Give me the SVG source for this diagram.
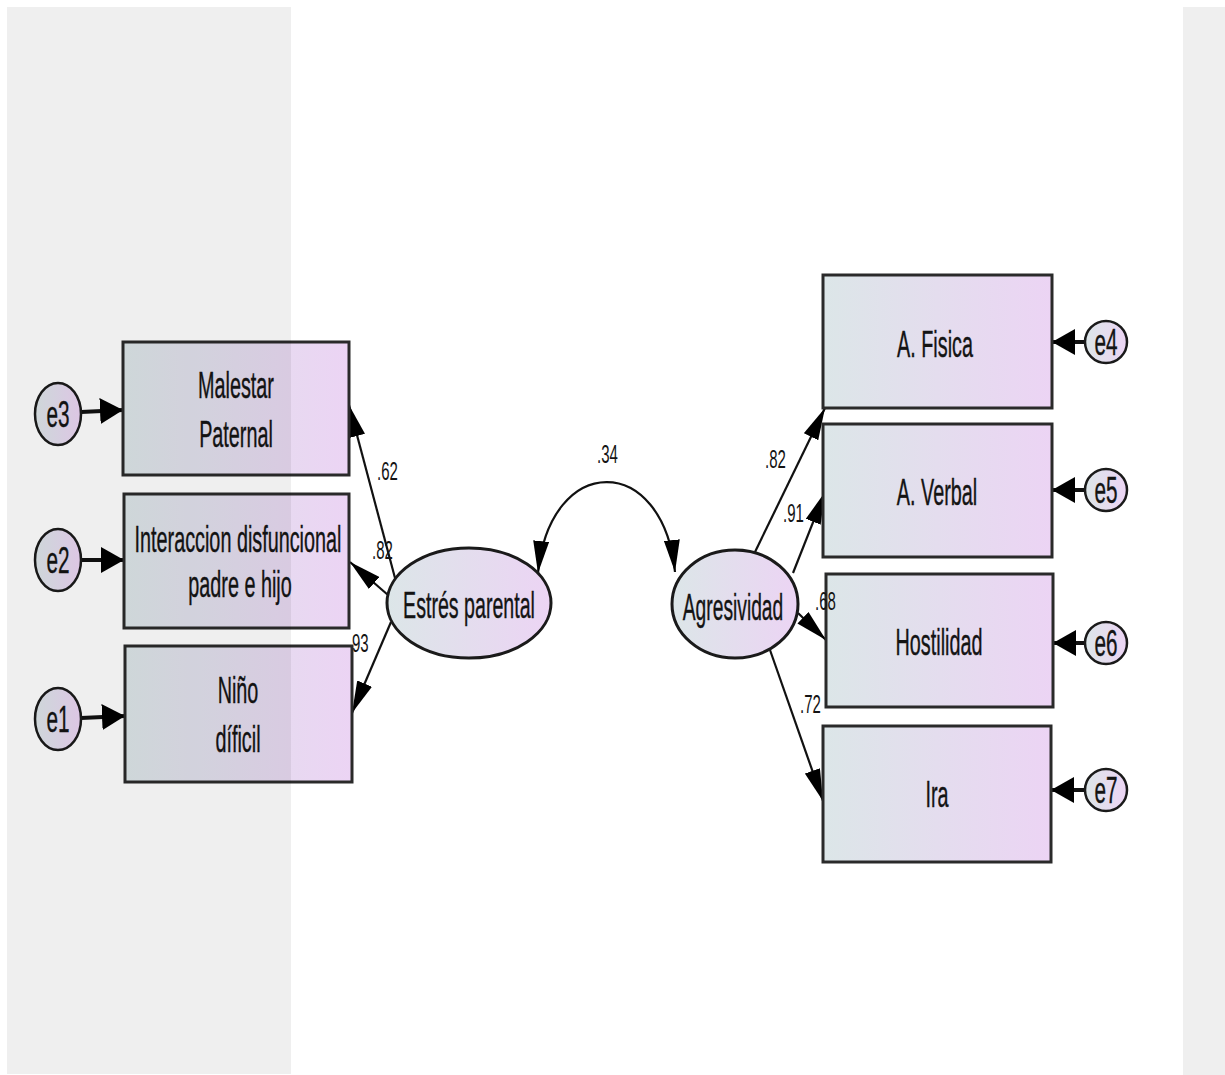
<svg xmlns="http://www.w3.org/2000/svg" width="1225" height="1075" viewBox="0 0 1225 1075">
<style>
.box{fill:url(#g);stroke:#2a2a2a;stroke-width:3}
.lat{fill:url(#g);stroke:#1a1a1a;stroke-width:3}
.err{fill:url(#g);stroke:#1a1a1a;stroke-width:2.5}
.t{font-family:"Liberation Sans",Arial,sans-serif;font-size:36px;fill:#141414;stroke:#141414;stroke-width:0.4;text-anchor:middle}
.tl{font-family:"Liberation Sans",Arial,sans-serif;font-size:37px;fill:#141414;stroke:#141414;stroke-width:0.4;text-anchor:middle}
.te{font-family:"Liberation Sans",Arial,sans-serif;font-size:37px;fill:#141414;stroke:#141414;stroke-width:0.4;text-anchor:middle}
.n{font-family:"Liberation Sans",Arial,sans-serif;font-size:25px;fill:#141414}
.ld{stroke:#111;stroke-width:2.2;fill:none}
.er{stroke:#111;stroke-width:4;fill:none}
</style>
<defs>
<linearGradient id="g" x1="0" y1="0" x2="1" y2="0">
<stop offset="0" stop-color="#dce6e8"/>
<stop offset="1" stop-color="#ecd4f4"/>
</linearGradient>
<marker id="ah" markerUnits="userSpaceOnUse" viewBox="0 0 32 16" refX="32" refY="8" markerWidth="32" markerHeight="16" orient="auto-start-reverse">
<path d="M0,0 L32,8 L0,16 z" fill="#000"/>
</marker>
<marker id="ahE" markerUnits="userSpaceOnUse" viewBox="0 0 23 26" refX="23" refY="13" markerWidth="23" markerHeight="26" orient="auto">
<path d="M0,0 L23,13 L0,26 z" fill="#000"/>
</marker>
</defs>
<rect x="0" y="0" width="1225" height="1075" fill="#fff"/>

<g id="connectors">
<line class="er" x1="81" y1="412" x2="123" y2="410" marker-end="url(#ahE)"/>
<line class="er" x1="81" y1="560" x2="124" y2="560" marker-end="url(#ahE)"/>
<line class="er" x1="81" y1="718" x2="125" y2="716" marker-end="url(#ahE)"/>
<line class="er" x1="1085" y1="342" x2="1052" y2="342" marker-end="url(#ahE)"/>
<line class="er" x1="1085" y1="490" x2="1052" y2="490" marker-end="url(#ahE)"/>
<line class="er" x1="1085" y1="643" x2="1053" y2="643" marker-end="url(#ahE)"/>
<line class="er" x1="1085" y1="790" x2="1051" y2="790" marker-end="url(#ahE)"/>
<line class="ld" x1="395" y1="578" x2="349" y2="405" marker-end="url(#ah)"/>
<line class="ld" x1="388" y1="595" x2="350" y2="562" marker-end="url(#ah)"/>
<line class="ld" x1="391" y1="622" x2="352" y2="713" marker-end="url(#ah)"/>
<line class="ld" x1="755" y1="552" x2="825" y2="408" marker-end="url(#ah)"/>
<line class="ld" x1="793" y1="573" x2="825" y2="492" marker-end="url(#ah)"/>
<line class="ld" x1="798" y1="613" x2="826" y2="640" marker-end="url(#ah)"/>
<line class="ld" x1="770" y1="650" x2="823" y2="801" marker-end="url(#ah)"/>
<path class="ld" stroke-width="3" d="M538,573 C550,452 663,452 675,572" marker-start="url(#ah)" marker-end="url(#ah)"/>
</g>

<g id="n_malestar"><rect class="box" x="123" y="342" width="226" height="133"/>
<text class="t" transform="translate(236,398) scale(0.55,1)">Malestar</text>
<text class="t" transform="translate(236,447) scale(0.55,1)">Paternal</text></g>
<g id="n_interaccion"><rect class="box" x="124" y="494" width="225" height="134"/>
<text class="t" transform="translate(238,552) scale(0.55,1)">Interaccion disfuncional</text>
<text class="t" transform="translate(240,597) scale(0.55,1)">padre e hijo</text></g>
<g id="n_nino"><rect class="box" x="125" y="646" width="227" height="136"/>
<text class="t" transform="translate(238,703) scale(0.55,1)">Niño</text>
<text class="t" transform="translate(238,752) scale(0.55,1)">díficil</text></g>

<g id="n_fisica"><rect class="box" x="823" y="275" width="229" height="133"/>
<text class="t" transform="translate(935,357) scale(0.55,1)">A. Fisica</text></g>
<g id="n_verbal"><rect class="box" x="823" y="424" width="229" height="133"/>
<text class="t" transform="translate(937,505) scale(0.55,1)">A. Verbal</text></g>
<g id="n_hostilidad"><rect class="box" x="826" y="574" width="227" height="133"/>
<text class="t" transform="translate(939,655) scale(0.55,1)">Hostilidad</text></g>
<g id="n_ira"><rect class="box" x="823" y="726" width="228" height="136"/>
<text class="t" transform="translate(937,807) scale(0.55,1)">Ira</text></g>

<g id="n_estres"><ellipse class="lat" cx="469" cy="603" rx="82" ry="55"/>
<text class="tl" transform="translate(469,618) scale(0.53,1)">Estrés parental</text></g>
<g id="n_agresividad"><ellipse class="lat" cx="735" cy="604" rx="63" ry="54"/>
<text class="tl" transform="translate(733,620) scale(0.52,1)">Agresividad</text></g>

<g id="n_e3"><ellipse class="err" cx="58" cy="414" rx="23" ry="31"/>
<text class="te" transform="translate(58,427) scale(0.56,1)">e3</text></g>
<g id="n_e2"><ellipse class="err" cx="58" cy="560" rx="23" ry="31"/>
<text class="te" transform="translate(58,573) scale(0.56,1)">e2</text></g>
<g id="n_e1"><ellipse class="err" cx="58" cy="719" rx="23" ry="31"/>
<text class="te" transform="translate(58,732) scale(0.56,1)">e1</text></g>
<g id="n_e4"><ellipse class="err" cx="1106" cy="342" rx="21" ry="21"/>
<text class="te" transform="translate(1106,355) scale(0.56,1)" font-size="34">e4</text></g>
<g id="n_e5"><ellipse class="err" cx="1106" cy="490" rx="21" ry="21"/>
<text class="te" transform="translate(1106,503) scale(0.56,1)" font-size="34">e5</text></g>
<g id="n_e6"><ellipse class="err" cx="1106" cy="643" rx="21" ry="21"/>
<text class="te" transform="translate(1106,656) scale(0.56,1)" font-size="34">e6</text></g>
<g id="n_e7"><ellipse class="err" cx="1106" cy="790" rx="21" ry="21"/>
<text class="te" transform="translate(1106,803) scale(0.56,1)" font-size="34">e7</text></g>

<g id="labels">
<text class="n" transform="translate(377,480) scale(0.6,1)">.62</text>
<text class="n" transform="translate(372,559) scale(0.6,1)">.82</text>
<text class="n" transform="translate(352,652) scale(0.6,1)">93</text>
<text class="n" transform="translate(597,463) scale(0.6,1)">.34</text>
<text class="n" transform="translate(765,468) scale(0.6,1)">.82</text>
<text class="n" transform="translate(783,522) scale(0.6,1)">.91</text>
<text class="n" transform="translate(815,610) scale(0.6,1)">.68</text>
<text class="n" transform="translate(800,713) scale(0.6,1)">.72</text>
</g>

<rect x="7" y="7" width="284" height="1067" fill="#000" fill-opacity="0.063"/>
<rect x="1183" y="7" width="42" height="1068" fill="#000" fill-opacity="0.063"/>
</svg>
